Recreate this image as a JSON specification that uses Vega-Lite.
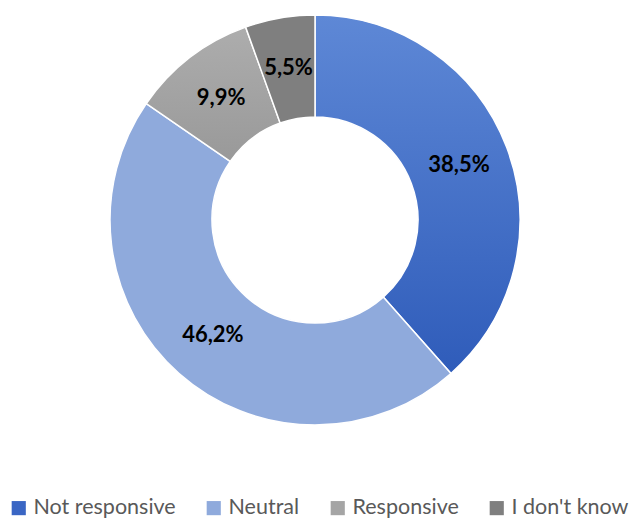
{
  "$schema": "https://vega.github.io/schema/vega-lite/v6.json",
  "width": 630,
  "height": 440,
  "padding": 0,
  "autosize": {"type": "pad"},
  "background": "white",
  "view": {"stroke": null},
  "data": {
    "values": [
      {"category": "Not responsive", "value": 38.5, "label": "38,5%", "order": 1},
      {"category": "Neutral", "value": 46.2, "label": "46,2%", "order": 2},
      {"category": "Responsive", "value": 9.9, "label": "9,9%", "order": 3},
      {"category": "I don't know", "value": 5.5, "label": "5,5%", "order": 4}
    ]
  },
  "encoding": {
    "theta": {"field": "value", "type": "quantitative", "stack": true},
    "order": {"field": "order", "type": "quantitative"}
  },
  "layer": [
    {
      "mark": {"type": "arc", "innerRadius": 103, "outerRadius": 205, "stroke": "white", "strokeWidth": 1.5},
      "encoding": {
        "color": {
          "condition": [
            {
              "test": "datum.category === 'Not responsive'",
              "value": {"gradient": "linear", "x1": 0, "y1": 0, "x2": 0, "y2": 1, "stops": [{"offset": 0, "color": "#5E88D6"}, {"offset": 1, "color": "#2F5CBA"}]}
            },
            {
              "test": "datum.category === 'Responsive'",
              "value": {"gradient": "linear", "x1": 0, "y1": 0, "x2": 0, "y2": 1, "stops": [{"offset": 0, "color": "#ADADAD"}, {"offset": 1, "color": "#999999"}]}
            }
          ],
          "field": "category",
          "type": "nominal",
          "sort": ["Not responsive", "Neutral", "Responsive", "I don't know"],
          "scale": {
            "domain": ["Not responsive", "Neutral", "Responsive", "I don't know"],
            "range": ["#3A66C4", "#8FAADC", "#A5A5A5", "#7F7F7F"]
          },
          "legend": {
            "title": null,
            "orient": "none",
            "legendX": 8,
            "legendY": 497,
            "padding": 0,
            "direction": "horizontal",
            "symbolType": "square",
            "symbolSize": 200,
            "symbolStrokeWidth": 0,
            "labelFont": "Lato",
            "labelFontSize": 21.5,
            "labelColor": "#595959",
            "labelOffset": 4,
            "columnPadding": 27,
            "labelLimit": 300
          }
        }
      }
    },
    {
      "mark": {"type": "text", "radius": 154, "font": "Lato", "fontWeight": "bold", "fontSize": 22, "color": "black"},
      "encoding": {
        "text": {"field": "label", "type": "nominal"}
      }
    }
  ]
}
